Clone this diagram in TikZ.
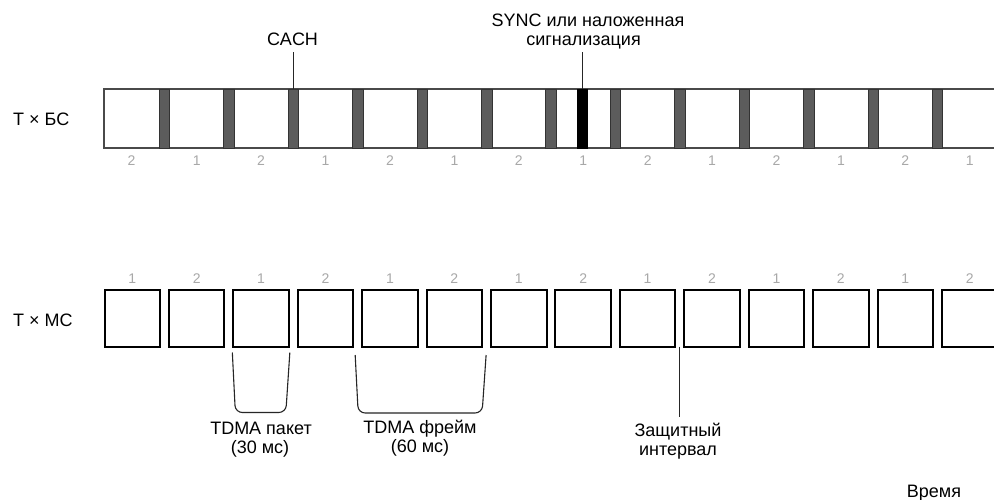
\documentclass[tikz,border=0pt]{standalone}
\usepackage{fontspec}
\setmainfont{Liberation Sans}
\usetikzlibrary{calc}
\definecolor{outl}{HTML}{4A4A4A}
\definecolor{barfill}{HTML}{5C5C5C}
\definecolor{numgrey}{HTML}{A8A8A8}
\begin{document}
\begin{tikzpicture}[x=1pt,y=-1pt, font=\fontsize{18}{20}\selectfont,
  lbl/.style={inner sep=0pt, anchor=base},
  num/.style={inner sep=0pt, anchor=base, text=numgrey, font=\fontsize{14}{16}\selectfont},
  cachbar/.style={draw=black!80, fill=barfill, line width=0.6pt, minimum width=10.5pt, minimum height=59pt, inner sep=0pt, outer sep=0pt},
  syncbar/.style={cachbar, fill=black, draw=black},
  slot/.style={draw=black, line width=2pt, minimum width=55.5pt, minimum height=57pt, inner sep=0pt, outer sep=0pt},
  conn/.style={draw=black!85, line width=1.1pt}]
\useasboundingbox (0,0) rectangle (994,499);
\clip (0,0) rectangle (994,499);
\fill[white] (0,0) rectangle (994,499);

% base station row
\node[draw=outl, line width=1.3pt, anchor=north west, minimum width=920pt, minimum height=59pt, inner sep=0pt, outer sep=0pt] (bsbar) at (104,89) {};
\foreach \k in {0,...,12} {
  \node[cachbar] (c\k) at ({164.5+64.42*\k},118.5) {};
}
\node[syncbar] (sync) at (582.5,118.5) {};
\foreach \k in {0,...,13} {
  \pgfmathsetmacro\xx{\k==0 ? 131.5 : 164.5+64.42*(\k-0.5)}
  \pgfmathtruncatemacro\vv{mod(\k,2)==0 ? 2 : 1}
  \node[num] (t\k) at (\xx,165) {\vv};
}

% mobile station row
\foreach \k in {0,...,13} {
  \node[slot] (m\k) at ({132.25+64.42*\k},318) {};
  \pgfmathtruncatemacro\vv{mod(\k,2)==0 ? 1 : 2}
  \node[num] (n\k) at ({132.25+64.42*\k},283) {\vv};
}

% row labels
\node[lbl, anchor=base west] (tbs) at (13,125) {T × БС};
\node[lbl, anchor=base west] (tms) at (13,326) {T × МС};

% top annotations
\node[lbl] (cach) at (292.5,45) {CACH};
\draw[conn] ($(cach.base -| c2.north)+(0,7)$) -- (c2.north);
\node[lbl] (sync1) at (588,26) {SYNC или наложенная};
\node[lbl] (sync2) at (583.5,45) {сигнализация};
\draw[conn] ($(sync2.base -| sync.north)+(0,7)$) -- (sync.north);

% brackets
\draw[conn, rounded corners=7pt] ($(m2.south west)+(-1,6)$) -- ($(m2.south west)+(2,66)$) -- ($(m2.south east)+(-3,66)$) -- ($(m2.south east)+(1,6)$);
\draw[conn, rounded corners=7pt] ($(m4.south west)+(-7,8.5)$) -- ($(m4.south west)+(-4,66.5)$) -- ($(m5.south east)+(0,66.5)$) -- ($(m5.south east)+(4,8.5)$);
\node[lbl] (pk1) at (261,434) {TDMA пакет};
\node[lbl] (pk2) at (260,453) {(30 мс)};
\node[lbl] (fr1) at (420,433) {TDMA фрейм};
\node[lbl] (fr2) at (420,452) {(60 мс)};

% guard interval
\coordinate (g) at ($(m8.south east)!0.5!(m9.south west)$);
\coordinate (gend) at ($(g)+(0,70)$);
\draw[conn] (g) -- (gend);
\node[lbl] (gi1) at (678,436) {Защитный};
\node[lbl] (gi2) at (678,455) {интервал};

\node[lbl] (time) at (934,497) {Время};
\end{tikzpicture}
\end{document}
